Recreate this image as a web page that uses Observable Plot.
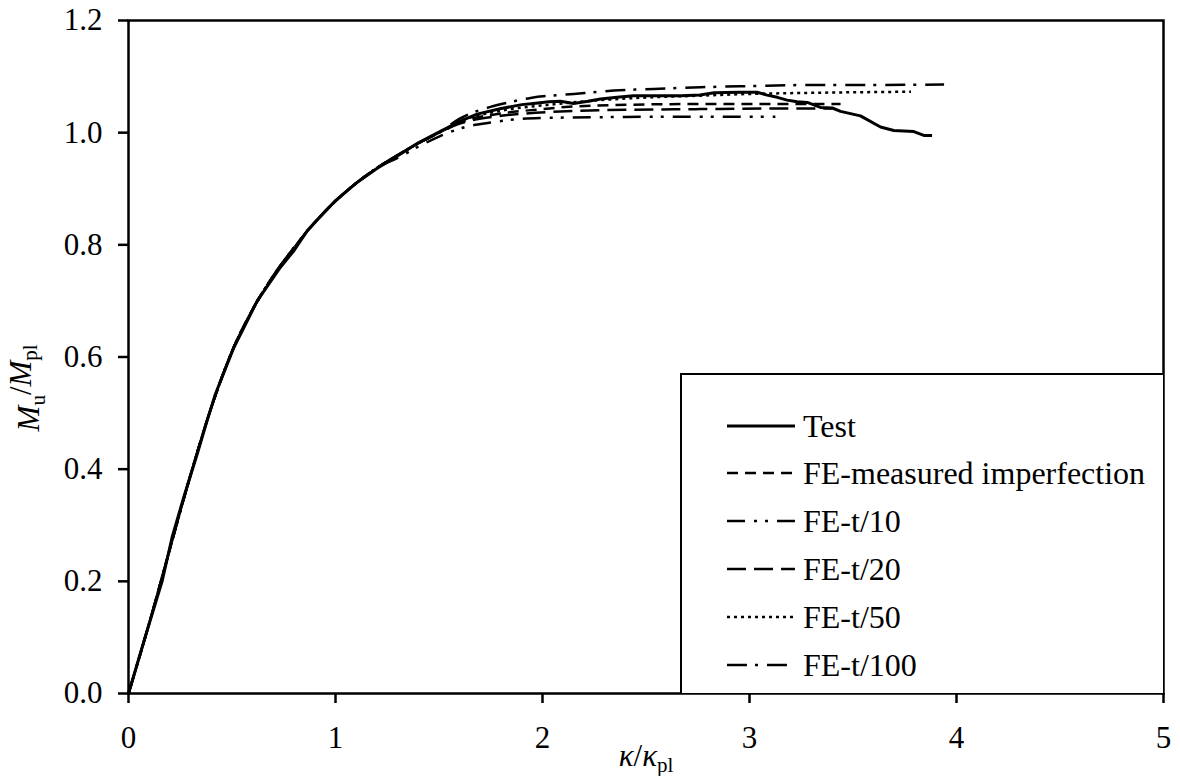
<!DOCTYPE html>
<html>
<head>
<meta charset="utf-8">
<script src="https://cdn.jsdelivr.net/npm/d3@7"></script>
<script src="https://cdn.jsdelivr.net/npm/@observablehq/plot@0.6"></script>
<style>
  html, body { margin: 0; padding: 0; background: #fff; }
  #wrap { position: relative; width: 1180px; height: 776px; font-family: "Liberation Serif", "Times New Roman", serif; color: #000; }
  #legend { position: absolute; left: 680px; top: 373px; width: 483px; height: 320px; border-left: 2.5px solid #000; border-top: 2.5px solid #000; background: #fff; box-sizing: border-box; }
  .row { position: absolute; left: 0; height: 40px; display: flex; align-items: center; font-size: 32px; white-space: nowrap; }
  .row svg { margin-left: 45px; margin-right: 8px; }
</style>
</head>
<body>
<div id="wrap">
  <div id="chart"></div>
  <div id="legend"></div>
</div>
<script>
// ---- axis ticks ----
const xTicks = [0, 1, 2, 3, 4, 5];
const yTicks = [0, 0.2, 0.4, 0.6, 0.8, 1.0, 1.2];

// ---- Test (experimental) curve ----
const testK = [0, 0.08, 0.163, 0.211, 0.267, 0.332, 0.38, 0.42, 0.509, 0.622, 0.734, 0.80, 0.863, 1.0, 1.1, 1.2, 1.314, 1.4, 1.5, 1.6, 1.684, 1.8, 1.9, 1.957, 2.03, 2.087, 2.15, 2.22, 2.28, 2.36, 2.44, 2.54, 2.67, 2.76, 2.83, 2.95, 3.037, 3.085, 3.134, 3.182, 3.23, 3.279, 3.343, 3.40, 3.44, 3.536, 3.633, 3.697, 3.794, 3.842, 3.882];
const testM = [0, 0.1, 0.201, 0.279, 0.35, 0.427, 0.487, 0.534, 0.617, 0.70, 0.76, 0.79, 0.825, 0.879, 0.91, 0.936, 0.962, 0.982, 1.001, 1.02, 1.033, 1.043, 1.05, 1.052, 1.055, 1.056, 1.052, 1.056, 1.06, 1.063, 1.066, 1.066, 1.066, 1.067, 1.071, 1.072, 1.072, 1.067, 1.063, 1.058, 1.055, 1.054, 1.045, 1.044, 1.038, 1.030, 1.010, 1.004, 1.002, 0.995, 0.995];

// ---- shared rising branch of the FE curves ----
const riseK = [0, 0.1, 0.2, 0.3, 0.4, 0.5, 0.6, 0.7, 0.8, 0.9, 1.0, 1.1, 1.2, 1.3, 1.4, 1.5];
const riseM = [0, 0.125, 0.258, 0.39, 0.51, 0.61, 0.685, 0.745, 0.795, 0.84, 0.878, 0.91, 0.937, 0.96, 0.981, 1.0];

// ---- FE tails (after the shared branch) ----
const measK = [1.6, 1.797, 2.0, 2.087, 2.44, 2.763, 3.1, 3.44];
const measM = [1.018, 1.034, 1.042, 1.045, 1.050, 1.051, 1.051, 1.051];

const t10K = [1.3, 1.4, 1.5, 1.636, 1.749, 1.845, 1.99, 2.4, 2.763, 3.125];
const t10M = [0.955, 0.975, 0.993, 1.011, 1.018, 1.023, 1.026, 1.028, 1.0285, 1.0285];

const t20K = [1.6, 1.8, 1.99, 2.28, 2.763, 3.1, 3.40];
const t20M = [1.016, 1.03, 1.036, 1.040, 1.042, 1.043, 1.043];

const t50K = [1.6, 1.797, 2.039, 2.28, 2.52, 2.763, 3.0, 3.3, 3.5, 3.78];
const t50M = [1.02, 1.039, 1.050, 1.058, 1.063, 1.066, 1.069, 1.071, 1.072, 1.073];

const t100K = [1.6, 1.749, 1.85, 1.942, 2.151, 2.345, 2.538, 2.763, 3.0, 3.3, 3.6, 3.94];
const t100M = [1.025, 1.046, 1.055, 1.062, 1.069, 1.075, 1.078, 1.081, 1.083, 1.085, 1.085, 1.086];

// ---- series names and styles ----
const seriesNames = ["Test", "FE-measured imperfection", "FE-t/10", "FE-t/20", "FE-t/50", "FE-t/100"];
const seriesDash = [null, "11,7", "18,9,3,8,3,9", "19,8", "3,4", "20,8,3,9"];
const seriesWidth = [3, 2.5, 2.5, 2.5, 2.5, 2.5];

function toPts(ks, ms) { return ks.map((k, i) => ({k, m: ms[i]})); }
function feSeries(upTo, tk, tm) {
  const base = toPts(riseK, riseM).filter(d => d.k <= upTo);
  return base.concat(toPts(tk, tm));
}
const seriesData = [
  toPts(testK, testM),
  feSeries(1.5, measK, measM),
  feSeries(1.2, t10K, t10M),
  feSeries(1.5, t20K, t20M),
  feSeries(1.5, t50K, t50M),
  feSeries(1.5, t100K, t100M)
];

const lineMarks = [];
for (let i = seriesData.length - 1; i >= 0; i--) {
  lineMarks.push(Plot.line(seriesData[i], {
    x: "k", y: "m",
    stroke: "#000",
    strokeWidth: seriesWidth[i],
    strokeDasharray: seriesDash[i] || undefined,
    strokeLinecap: "butt",
    strokeLinejoin: "round",
    curve: i === 0 ? "linear" : "monotone-x"
  }));
}

const plot = Plot.plot({
  width: 1180,
  height: 776,
  marginLeft: 128,
  marginRight: 17,
  marginTop: 20,
  marginBottom: 83,
  style: { fontFamily: "'Liberation Serif', 'Times New Roman', serif", fontSize: "31px", color: "#000", background: "#fff", overflow: "visible" },
  x: { domain: [0, 5] },
  y: { domain: [0, 1.2] },
  marks: [
    ...lineMarks,
    Plot.frame({ stroke: "#000", strokeWidth: 2.5 }),
    Plot.axisX({ ticks: xTicks, tickFormat: d => String(d), tickSize: 10, tickPadding: 22, strokeWidth: 2.5, fontSize: 31, fill: "#000",
                 label: "k/kpl", labelAnchor: "center", labelOffset: 72 }),
    Plot.axisY({ ticks: yTicks, tickFormat: d3.format(".1f"), tickSize: 10, tickPadding: 16, strokeWidth: 2.5, fontSize: 31, fill: "#000",
                 label: "Mu/Mpl", labelAnchor: "center", labelOffset: 112 })
  ]
});
document.getElementById("chart").appendChild(plot);

// rich-text axis titles (italic symbols, subscripts)
const svg = d3.select(plot);
function rich(sel, parts) {
  sel.text(null);
  let shifted = false;
  parts.forEach(p => {
    const ts = sel.append("tspan").text(p.t);
    if (p.i) ts.attr("font-style", "italic");
    if (p.sub && !shifted) { ts.attr("dy", "0.3em").attr("font-size", "21px"); shifted = true; }
    else if (p.sub) { ts.attr("font-size", "21px"); }
    else if (!p.sub && shifted) { ts.attr("dy", "-0.45em"); shifted = false; }
  });
}
const xl = svg.select('g[aria-label="x-axis label"] text');
rich(xl, [{t: "κ", i: true}, {t: "/"}, {t: "κ", i: true}, {t: "pl", sub: true}]);
const yl = svg.select('g[aria-label="y-axis label"] text');
rich(yl, [{t: "M", i: true}, {t: "u", sub: true}, {t: "/"}, {t: "M", i: true}, {t: "pl", sub: true}]);
// shift the y title slightly below the frame centre, as in the reference
const yScale = plot.scale("y");
const tr = yl.attr("transform");
if (tr) {
  const m = tr.match(/translate\(([-\d.]+),([-\d.]+)\)/);
  if (m) yl.attr("transform", tr.replace(m[0], `translate(${m[1]},${yScale.apply(0.545)})`));
}

// legend (overlay inside the plot frame)
const legend = document.getElementById("legend");
const rowCenters = [51, 98, 146, 194, 242, 290];
seriesNames.forEach((name, i) => {
  const row = document.createElement("div");
  row.className = "row";
  row.style.top = (rowCenters[i] - 20) + "px";
  const dash = seriesDash[i] ? ` stroke-dasharray="${seriesDash[i]}"` : "";
  row.innerHTML = `<svg width="68" height="10"><line x1="0" y1="5" x2="68" y2="5" stroke="#000" stroke-width="${seriesWidth[i]}"${dash}/></svg><span>${name}</span>`;
  legend.appendChild(row);
});
</script>
</body>
</html>
